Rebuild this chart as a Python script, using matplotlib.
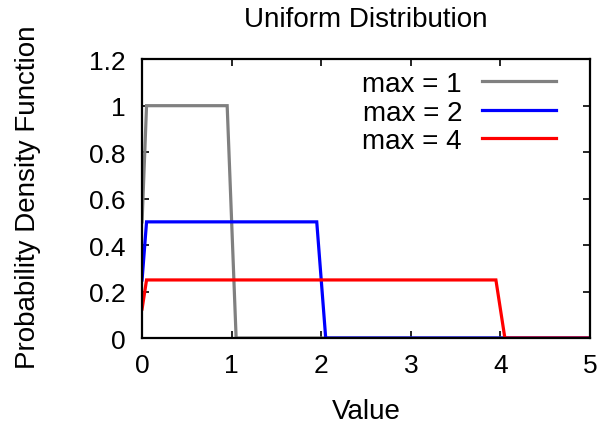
import matplotlib
matplotlib.use("Agg")
import matplotlib.pyplot as plt

plt.rcParams["font.family"] = ["Liberation Sans", "DejaVu Sans"]
plt.rcParams["font.size"] = 20

# sampled pdf vertices (step 0.05, half value at the edges)
x_max1 = [0.0, 0.05, 0.95, 1.0, 1.05, 5.0]
y_max1 = [0.5, 1.0, 1.0, 0.5, 0.0, 0.0]
x_max2 = [0.0, 0.05, 1.95, 2.0, 2.05, 5.0]
y_max2 = [0.25, 0.5, 0.5, 0.25, 0.0, 0.0]
x_max4 = [0.0, 0.05, 3.95, 4.0, 4.05, 5.0]
y_max4 = [0.125, 0.25, 0.25, 0.125, 0.0, 0.0]

labels = ["max = 1", "max = 2", "max = 4"]
colors = ["#808080", "#0000ff", "#ff0000"]

xticks = [0, 1, 2, 3, 4, 5]
yticks = [0, 0.2, 0.4, 0.6, 0.8, 1.0, 1.2]
ytick_labels = ["0", "0.2", "0.4", "0.6", "0.8", "1", "1.2"]

fig = plt.figure(figsize=(6.02, 4.27), dpi=100)
ax = fig.add_axes([0.236, 0.206, 0.744, 0.653])

for xs, ys, lab, col in zip([x_max1, x_max2, x_max4], [y_max1, y_max2, y_max4], labels, colors):
    ax.plot(xs, ys, color=col, lw=2.3, label=lab, solid_joinstyle="miter")

ax.set_xlim(0, 5)
ax.set_ylim(0, 1.2)
ax.set_xticks(xticks)
ax.set_yticks(yticks)
ax.set_yticklabels(ytick_labels)
ax.tick_params(direction="in", length=5, width=1.2, top=True, right=True, labelsize=19)
ax.tick_params(axis="x", pad=11)
ax.tick_params(axis="y", pad=12)
for s in ax.spines.values():
    s.set_linewidth(1.6)

ax.set_title("Uniform Distribution", fontsize=20, pad=24)
ax.set_xlabel("Value", va="baseline")
ax.set_ylabel("Probability Density Function", va="baseline")
ax.xaxis.set_label_coords(0.5, -0.287)
ax.yaxis.set_label_coords(-0.239, 0.51)

ax.legend(loc="upper right", bbox_to_anchor=(0.924, 0.957), frameon=False,
          markerfirst=False, handlelength=2.66, handletextpad=0.72,
          labelspacing=0.09, borderaxespad=0, borderpad=0)

fig.savefig("out.png", dpi=100)
